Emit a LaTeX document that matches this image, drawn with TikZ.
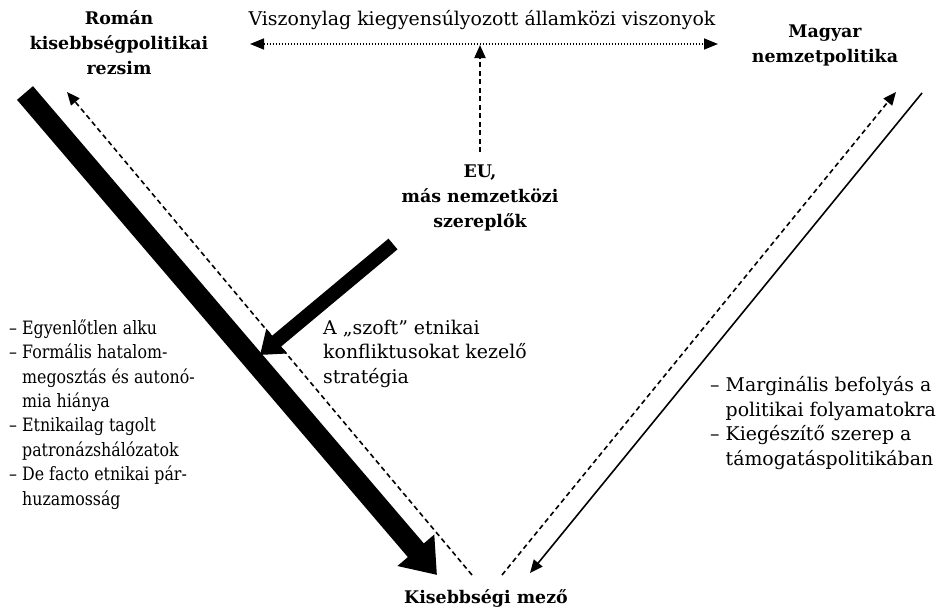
\documentclass[tikz,border=0pt]{standalone}
\usepackage{fontspec}
\setmainfont{DejaVu Serif}
\newfontfamily\narrowserif[FakeStretch=0.86]{DejaVu Serif}
\usetikzlibrary{arrows.meta}
\begin{document}
\begin{tikzpicture}[x=1pt,y=-1pt,
  lbl/.style={inner sep=0pt, anchor=base, font=\fontsize{18.9}{24.4}\selectfont},
  ttl/.style={inner sep=0pt, anchor=base, font=\fontsize{17.4}{24.6}\selectfont\bfseries, align=center},
  thick arrow/.style={line width=#1, -{Triangle[width=2.2*#1, length=1.55*#1]}},
  thin dashed/.style={line width=1.6pt, dash pattern=on 5pt off 3.5pt, -{Triangle[width=11pt,length=13pt]}},
  thin solid/.style={line width=1.6pt, -{Triangle[width=11pt,length=13pt]}},
  dotline/.style={line width=1.5pt, dash pattern=on 1.4pt off 1.6pt, {Triangle[width=11pt,length=14pt]}-{Triangle[width=11pt,length=14pt]}},
  ]
\useasboundingbox (0,0) rectangle (945,613);
\fill[white] (0,0) rectangle (945,613);

% texts (base anchor = baseline of the last line)
\node[ttl] (rom) at (119,74) {Román\\kisebbségpolitikai\\rezsim};
\node[lbl] (inter) at (482,25) {Viszonylag kiegyensúlyozott államközi viszonyok};
\node[ttl] (mag) at (825,62) {Magyar\\nemzetpolitika};
\node[ttl] (eu) at (480,227) {EU,\\más nemzetközi\\szereplők};
\node[lbl, anchor=base west, align=left] (szoft) at (323,383) {A „szoft” etnikai\\konfliktusokat kezelő\\stratégia};
\node[lbl, anchor=base west, align=left, font=\fontsize{18.4}{24.4}\narrowserif] (leftlist) at (9,505) {– Egyenlőtlen alku\\– Formális hatalom-\\\hphantom{– }megosztás és autonó-\\\hphantom{– }mia hiánya\\– Etnikailag tagolt\\\hphantom{– }patronázshálózatok\\– De facto etnikai pár-\\\hphantom{– }huzamosság};
\node[lbl, anchor=base west, align=left] (rightlist) at (710,465) {– Marginális befolyás a\\\hphantom{– }politikai folyamatokra\\– Kiegészítő szerep a\\\hphantom{– }támogatáspolitikában};
\node[ttl] (mezo) at (486,603) {Kisebbségi mező};

% connector end points
\coordinate (romA) at (25,93);
\coordinate (mezoA) at (437,575);
\coordinate (mezoB) at (472,575);
\coordinate (romB) at (67,92);
\coordinate (mezoC) at (502,575);
\coordinate (magA) at (896,92);
\coordinate (magB) at (922,93);
\coordinate (mezoD) at (530,573);
\coordinate (euA) at (393,244);
\coordinate (euB) at (260,355);
\coordinate (euC) at (480,152);
\coordinate (interC) at (480,45);
\coordinate (interL) at (250,44);
\coordinate (interR) at (718,44);

\draw[thick arrow=21pt] (romA) -- (mezoA);
\draw[thick arrow=14pt] (euA) -- (euB);
\draw[thin dashed] (mezoB) -- (romB);
\draw[thin dashed] (mezoC) -- (magA);
\draw[thin solid] (magB) -- (mezoD);
\draw[thin dashed, line width=2pt] (euC) -- (interC);
\draw[dotline] (interL) -- (interR);
\end{tikzpicture}
\end{document}
